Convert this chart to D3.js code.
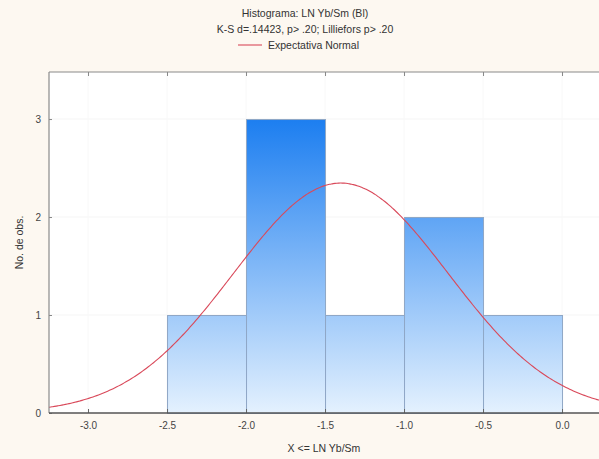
<!DOCTYPE html>
<html><head><meta charset="utf-8">
<script src="https://cdn.jsdelivr.net/npm/d3@7"></script>
<style>body{margin:0;background:#fdf8f1;}svg{display:block;}</style>
</head><body>
<svg id="c" width="599" height="459"></svg>
<script>
const binStarts = [-2.5, -2.0, -1.5, -1.0, -0.5];
const binWidth = 0.5;
const counts = [1, 3, 1, 2, 1];
const xTicks = [-3.0, -2.5, -2.0, -1.5, -1.0, -0.5, 0.0];
const yTicks = [0, 1, 2, 3];
const normMean = -1.40;
const normSd = 0.68;
const nObs = 8;
const titleLines = ["Histograma: LN Yb/Sm (Bl)", "K-S d=.14423, p> .20; Lilliefors p> .20"];
const legendLabel = "Expectativa Normal";
const xLabel = "X <= LN Yb/Sm";
const yLabel = "No. de obs.";

const svg = d3.select("#c");
const W = 599, H = 459;
const m = {l: 49, t: 72, r: 0, b: 46};
const x = d3.scaleLinear().domain([-3.247, 0.234]).range([m.l, W - m.r]);
const y = d3.scaleLinear().domain([0, 3.48]).range([H - m.b, m.t]);

svg.append("rect").attr("width", W).attr("height", H).attr("fill", "#fdf8f1");
svg.append("rect").attr("x", m.l).attr("y", m.t).attr("width", W - m.l).attr("height", H - m.b - m.t).attr("fill", "#ffffff");

const defs = svg.append("defs");
const g = defs.append("linearGradient").attr("id", "bg").attr("gradientUnits", "userSpaceOnUse")
  .attr("x1", 0).attr("x2", 0).attr("y1", y(3)).attr("y2", y(0));
g.append("stop").attr("offset", "0").attr("stop-color", "#1c7ef0");
g.append("stop").attr("offset", "1").attr("stop-color", "#e4f1fe");

// grid
svg.append("g").selectAll("line").data(yTicks.slice(1)).join("line")
  .attr("x1", m.l).attr("x2", W).attr("y1", d => y(d)).attr("y2", d => y(d))
  .attr("stroke", "#f5f5f5").attr("stroke-width", 1);
svg.append("g").selectAll("line").data(xTicks).join("line")
  .attr("x1", d => x(d)).attr("x2", d => x(d)).attr("y1", m.t).attr("y2", H - m.b)
  .attr("stroke", "#f8f8f8").attr("stroke-width", 1);

// bars
svg.append("g").selectAll("rect").data(binStarts).join("rect")
  .attr("x", d => x(d) + 0.5)
  .attr("y", (d, i) => y(counts[i]) + 0.5)
  .attr("width", d => x(d + binWidth) - x(d))
  .attr("height", (d, i) => y(0) - y(counts[i]))
  .attr("fill", "url(#bg)")
  .attr("stroke", "#8fa7c6").attr("stroke-width", 1);

// normal curve
const pts = d3.range(0, 301).map(i => {
  const xv = -3.247 + i * (0.234 + 3.247) / 300;
  const z = (xv - normMean) / normSd;
  return [xv, nObs * binWidth / (normSd * Math.sqrt(2 * Math.PI)) * Math.exp(-0.5 * z * z)];
});
svg.append("path").datum(pts)
  .attr("d", d3.line().x(d => x(d[0])).y(d => y(d[1])).curve(d3.curveBasis))
  .attr("fill", "none").attr("stroke", "#d9495a").attr("stroke-width", 1.1);

// axes
const font = "Liberation Sans, Arial, sans-serif";
const fmt = d => d3.format(".1f")(d).replace("\u2212", "-");
const xa = svg.append("g").attr("transform", `translate(0,${H - m.b})`)
  .call(d3.axisBottom(x).tickValues(xTicks).tickFormat(fmt).tickSize(-4).tickPadding(9));
xa.select(".domain").remove();
xa.selectAll("line").attr("stroke", "#666");
xa.selectAll("text").attr("font-family", font).attr("font-size", 10).attr("fill", "#444");

const xt = svg.append("g").attr("transform", `translate(0,${m.t})`)
  .call(d3.axisTop(x).tickValues(xTicks).tickFormat("").tickSize(-4));
xt.select(".domain").remove();
xt.selectAll("line").attr("stroke", "#888");

const ya = svg.append("g").attr("transform", `translate(${m.l},0)`)
  .call(d3.axisLeft(y).tickValues(yTicks).tickFormat(d3.format("d")).tickSize(-3).tickPadding(8));
ya.select(".domain").remove();
ya.selectAll("line").attr("stroke", "#888");
ya.selectAll("text").attr("font-family", font).attr("font-size", 10).attr("fill", "#444");

// frame
svg.append("line").attr("x1", m.l).attr("x2", W).attr("y1", m.t).attr("y2", m.t).attr("stroke", "#8a8a8a").attr("stroke-width", 1.2);
svg.append("line").attr("x1", m.l).attr("x2", m.l).attr("y1", m.t).attr("y2", H - m.b).attr("stroke", "#8a8a8a").attr("stroke-width", 1.2);
svg.append("line").attr("x1", m.l).attr("x2", W).attr("y1", H - m.b).attr("y2", H - m.b).attr("stroke", "#555").attr("stroke-width", 1.3);

// titles
titleLines.forEach((t, i) => {
  svg.append("text").attr("x", 305).attr("y", 17 + i * 16).attr("text-anchor", "middle")
    .attr("font-family", font).attr("font-size", 10.5).attr("fill", "#333").text(t);
});
svg.append("line").attr("x1", 238).attr("x2", 262).attr("y1", 45).attr("y2", 45).attr("stroke", "#d9495a").attr("stroke-width", 1.1);
svg.append("text").attr("x", 268).attr("y", 49).attr("font-family", font).attr("font-size", 10.5).attr("fill", "#333").text(legendLabel);

svg.append("text").attr("x", (m.l + W) / 2).attr("y", 452).attr("text-anchor", "middle")
  .attr("font-family", font).attr("font-size", 10.5).attr("fill", "#333").text(xLabel);
svg.append("text").attr("transform", `translate(23,${(m.t + H - m.b) / 2}) rotate(-90)`).attr("text-anchor", "middle")
  .attr("font-family", font).attr("font-size", 10.5).attr("fill", "#333").text(yLabel);
</script>
</body></html>
